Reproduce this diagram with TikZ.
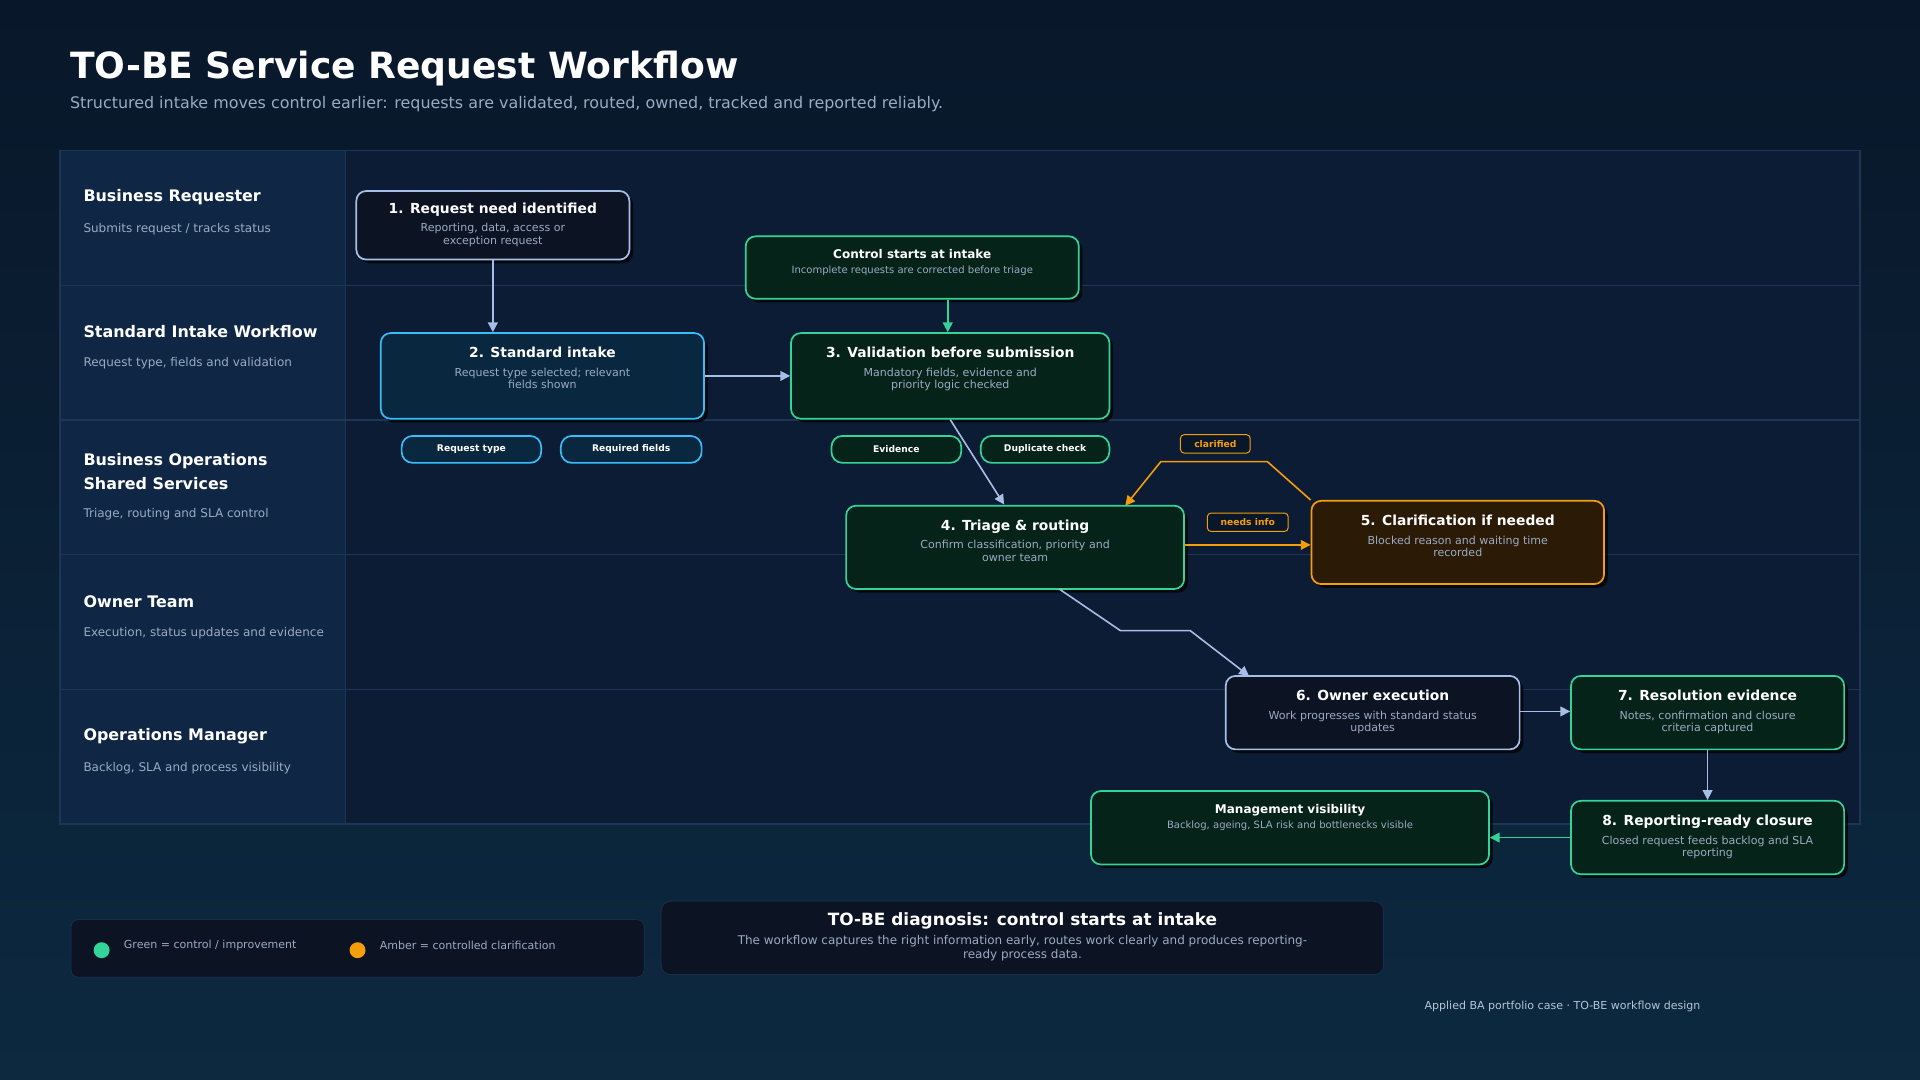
\documentclass[tikz,border=0pt]{standalone}
\usepackage{fontspec}
\setmainfont{DejaVu Sans}
\usetikzlibrary{arrows.meta,shadows}

\definecolor{bgdark}{HTML}{09172A}
\definecolor{bglow}{HTML}{0C2940}
\definecolor{lanebg}{HTML}{0B1C34}
\definecolor{labelbg}{HTML}{0F2745}
\definecolor{laneline}{HTML}{1E3656}
\definecolor{subtxt}{HTML}{9AABC2}
\definecolor{blueln}{HTML}{A9BEE6}
\definecolor{cyanln}{HTML}{38BDF8}
\definecolor{greenln}{HTML}{34D399}
\definecolor{amberln}{HTML}{F59E0B}
\definecolor{boxdark}{HTML}{0C1424}
\definecolor{boxcyan}{HTML}{0A2740}
\definecolor{boxgreen}{HTML}{06231A}
\definecolor{boxamber}{HTML}{2B1B06}

\tikzset{
  box/.style={draw, line width=1.4pt, rounded corners=8pt, align=center,
    text=white, inner sep=0pt,
    drop shadow={shadow xshift=3pt, shadow yshift=-3pt, fill=black, opacity=0.7}},
  stepbox/.style={box, fill=boxdark, draw=blueln},
  intake/.style={box, fill=boxcyan, draw=cyanln},
  ctrl/.style={box, fill=boxgreen, draw=greenln},
  clar/.style={box, fill=boxamber, draw=amberln},
  pill/.style={draw, line width=1.4pt, rounded corners=9pt, text=white,
    font=\fontsize{7.5}{9}\selectfont\bfseries, minimum height=22pt},
  tag/.style={draw=amberln, line width=0.8pt, rounded corners=3pt, fill=bgdark,
    text=amberln, font=\fontsize{7.5}{9}\selectfont\bfseries,
    minimum height=15pt, inner sep=0pt},
  flow/.style={blueln, line width=1.3pt, -{Triangle[width=8pt,length=8pt]}},
  lanetitle/.style={anchor=west, inner sep=0pt, text=white, font=\fontsize{13}{20}\selectfont\bfseries, align=left},
  lanesub/.style={anchor=west, inner sep=0pt, text=subtxt, font=\fontsize{9.8}{12}\selectfont},
}
% title, two-line subtitle, extra depth below
\newcommand{\steptxt}[3][0pt]{{\fontsize{11.3}{14}\selectfont\bfseries #2}\\[3pt]{\fontsize{9}{10.5}\selectfont\color{subtxt}\def\arraystretch{0.95}\begin{tabular}[t]{@{}c@{}}#3\rule[-#1]{0pt}{0pt}\end{tabular}}}
\newcommand{\notetxt}[3][0pt]{{\fontsize{9.8}{12}\selectfont\bfseries #2}\\{\fontsize{8.2}{9}\selectfont\color{subtxt}#3\rule[-#1]{0pt}{0pt}}}

\begin{document}
\begin{tikzpicture}[x=1pt, y=-1pt]
  % background
  \shade[top color=bgdark, bottom color=bglow] (0,0) rectangle (1568,882);
  \useasboundingbox (0,0) rectangle (1568,882);

  % title
  \node[anchor=west, inner sep=0pt, text=white, font=\fontsize{29.5}{32}\selectfont\bfseries] (title) at (57,56) {TO-BE Service Request Workflow};
  \node[anchor=west, inner sep=0pt, text=subtxt, font=\fontsize{13}{15}\selectfont] (subtitle) at (57,85) {Structured intake moves control earlier: requests are validated, routed, owned, tracked and reported reliably.};

  % lanes
  \fill[lanebg] (49,123) rectangle (1519,673);
  \fill[labelbg] (49,123) rectangle (282,673);
  \foreach \y in {233,343,453,563} {
    \draw[laneline, line width=1pt] (49,\y) -- (1519,\y);
  }
  \draw[laneline, line width=1pt] (49,123) rectangle (1519,673);
  \draw[laneline, line width=1pt] (282,123) -- (282,673);

  \node[lanetitle] (l1) at (68,161) {Business Requester};
  \node[lanesub] (l1s) at (68,187) {Submits request / tracks status};
  \node[lanetitle] (l2) at (68,271) {Standard Intake Workflow};
  \node[lanesub] (l2s) at (68,297) {Request type, fields and validation};
  \node[lanetitle] (l3) at (68,385) {Business Operations\\Shared Services};
  \node[lanesub] (l3s) at (68,420) {Triage, routing and SLA control};
  \node[lanetitle] (l4) at (68,491) {Owner Team};
  \node[lanesub] (l4s) at (68,517) {Execution, status updates and evidence};
  \node[lanetitle] (l5) at (68,601) {Operations Manager};
  \node[lanesub] (l5s) at (68,627) {Backlog, SLA and process visibility};

  % steps
  \node[stepbox, minimum width=223pt, minimum height=56pt] (s1) at (402.5,184) {\steptxt{1. Request need identified}{Reporting, data, access or\\exception request}};
  \node[ctrl, minimum width=272pt, minimum height=51pt] (cs) at (745,218.5) {\notetxt[10pt]{Control starts at intake}{Incomplete requests are corrected before triage}};
  \node[intake, minimum width=264pt, minimum height=70pt] (s2) at (443,307) {\steptxt[13pt]{2. Standard intake}{Request type selected; relevant\\fields shown}};
  \node[ctrl, minimum width=260pt, minimum height=70pt] (s3) at (776,307) {\steptxt[13pt]{3. Validation before submission}{Mandatory fields, evidence and\\priority logic checked}};
  \node[pill, draw=cyanln, fill=boxcyan, minimum width=114pt] (p1) at (385,367) {Request type};
  \node[pill, draw=cyanln, fill=boxcyan, minimum width=115pt] (p2) at (515.5,367) {Required fields};
  \node[pill, draw=greenln, fill=boxgreen, minimum width=106pt] (p3) at (732,367) {Evidence};
  \node[pill, draw=greenln, fill=boxgreen, minimum width=105pt] (p4) at (853.5,367) {Duplicate check};
  \node[ctrl, minimum width=276pt, minimum height=68pt] (s4) at (829,447) {\steptxt[11pt]{4. Triage \& routing}{Confirm classification, priority and\\owner team}};
  \node[clar, minimum width=239pt, minimum height=68pt] (s5) at (1190.5,443) {\steptxt[11pt]{5. Clarification if needed}{Blocked reason and waiting time\\recorded}};
  \node[tag, minimum width=57pt] (t1) at (992.5,362.5) {clarified};
  \node[tag, minimum width=66pt] (t2) at (1019,426.5) {needs info};
  \node[stepbox, minimum width=240pt, minimum height=60pt] (s6) at (1121,582) {\steptxt[2pt]{6. Owner execution}{Work progresses with standard status\\updates}};
  \node[ctrl, minimum width=223pt, minimum height=60pt] (s7) at (1394.5,582) {\steptxt[2pt]{7. Resolution evidence}{Notes, confirmation and closure\\criteria captured}};
  \node[ctrl, minimum width=223pt, minimum height=60pt] (s8) at (1394.5,684) {\steptxt[2pt]{8. Reporting-ready closure}{Closed request feeds backlog and SLA\\reporting}};
  \node[ctrl, minimum width=325pt, minimum height=60pt] (mv) at (1053.5,676) {\notetxt[18pt]{Management visibility}{Backlog, ageing, SLA risk and bottlenecks visible}};

  % connectors
  \draw[flow] (s1.south) -- (s1.south |- s2.north);
  \draw[flow, greenln] (cs.south -| 774,0) -- (s3.north -| 774,0);
  \draw[flow] (s2) -- (s3);
  \draw[flow] (s3.south) -- (820,412);
  \coordinate (c1) at (915,515);
  \coordinate (c2) at (972,515);
  \draw[flow] (865,481) -- (c1) -- (c2) -- (1020,552);
  \draw[flow, amberln] (s4.east |- 0,445) -- (s5.west |- 0,445);
  \coordinate (c3) at (1035,377);
  \coordinate (c4) at (948,377);
  \draw[flow, amberln] (s5.north west) -- (c3) -- (c4) -- (919,413);
  \draw[flow] (s6.east |- 0,581) -- (s7.west |- 0,581);
  \draw[flow] (s7) -- (s8);
  \draw[flow, greenln] (s8.west |- 0,684) -- (mv.east |- 0,684);

  % legend
  \node[draw=laneline, fill=boxdark, rounded corners=6pt, minimum width=468pt, minimum height=47pt] (lg) at (292,774.5) {};
  \node[circle, fill=greenln, minimum size=13pt, inner sep=0pt] (g1) at (83,776) {};
  \node[anchor=west, inner sep=0pt, text=subtxt, font=\fontsize{9}{10}\selectfont] (g1t) at (101,772) {Green = control / improvement};
  \node[circle, fill=amberln, minimum size=13pt, inner sep=0pt] (g2) at (292,776) {};
  \node[anchor=west, inner sep=0pt, text=subtxt, font=\fontsize{9}{10}\selectfont] (g2t) at (310,772) {Amber = controlled clarification};

  \node[draw=laneline, fill=boxdark, rounded corners=8pt, minimum width=590pt, minimum height=60pt, align=center, text=white] (dg) at (835,766) {{\fontsize{13.8}{17}\selectfont\bfseries TO-BE diagnosis: control starts at intake}\\[3pt]{\fontsize{9.8}{12}\selectfont\color{subtxt}\begin{tabular}[t]{@{}c@{}}The workflow captures the right information early, routes work clearly and produces reporting-\\ready process data.\end{tabular}}};

  \node[text=subtxt!70, font=\fontsize{9}{10}\selectfont] (foot) at (1276,822) {Applied BA portfolio case · TO-BE workflow design};
\end{tikzpicture}
\end{document}
